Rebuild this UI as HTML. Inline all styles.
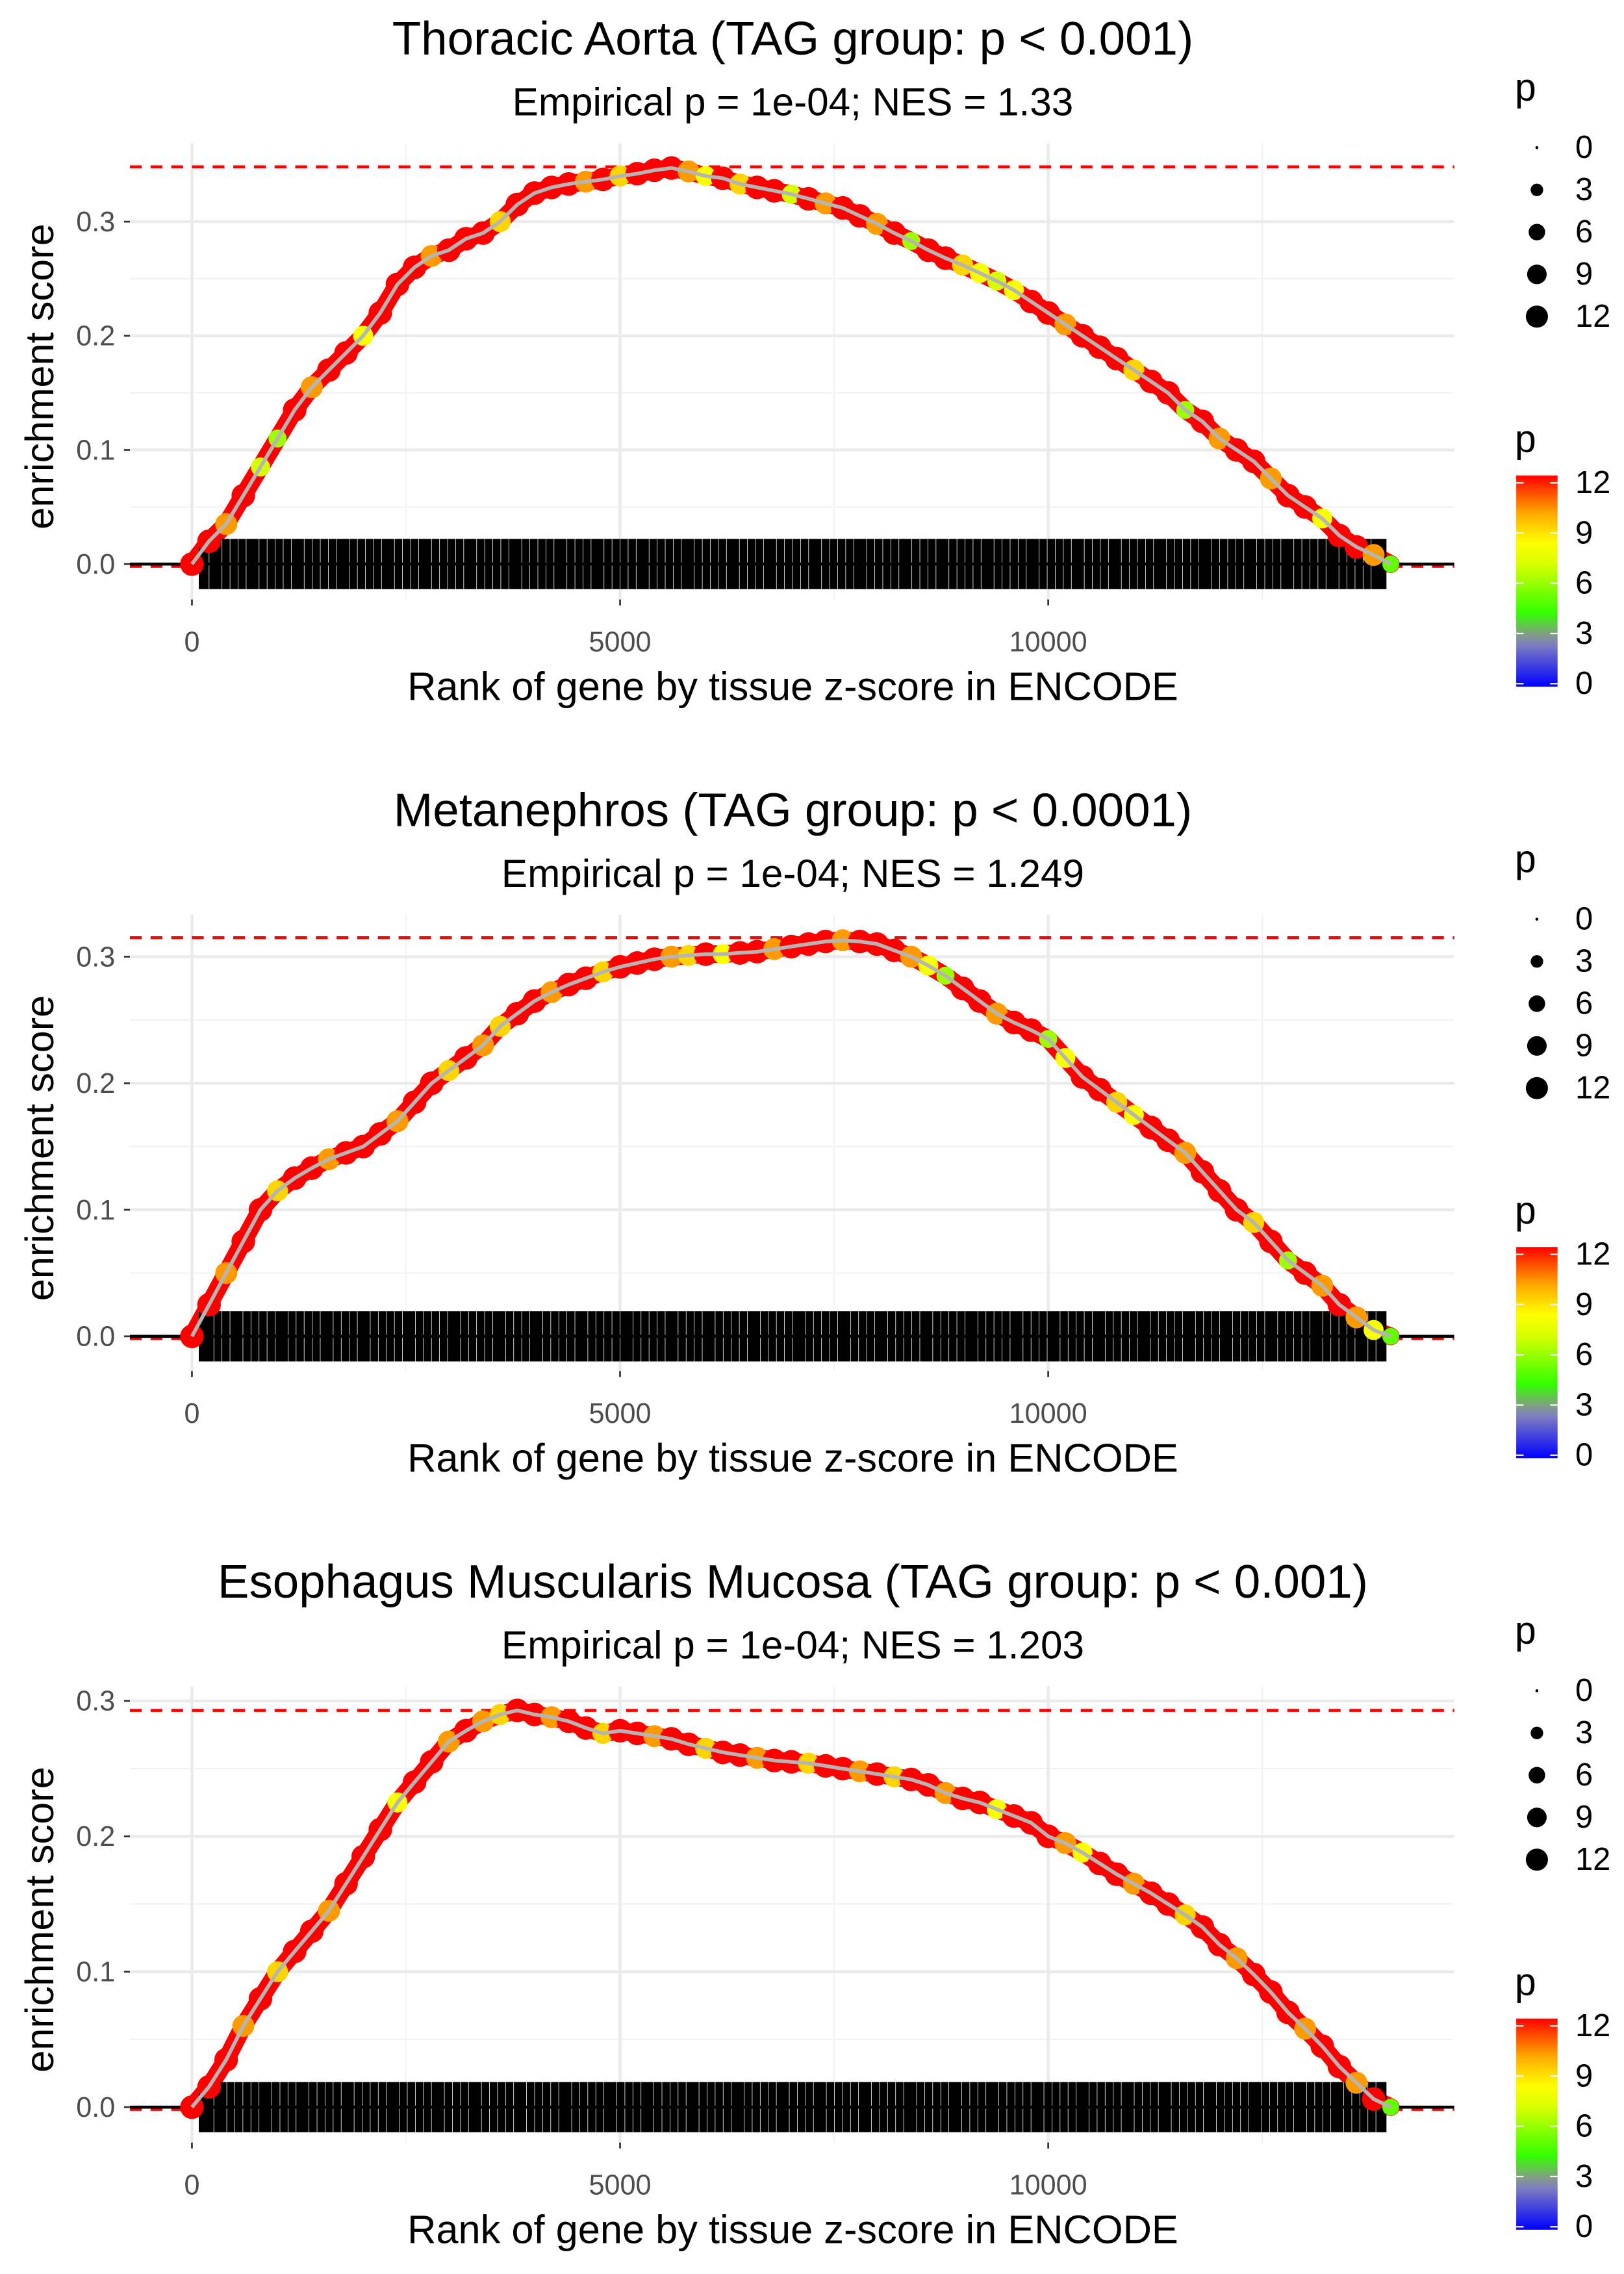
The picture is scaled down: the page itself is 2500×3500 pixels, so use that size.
<!DOCTYPE html>
<html><head><meta charset="utf-8"><style>
html,body{margin:0;padding:0;background:#fff;}
svg{display:block;font-family:"Liberation Sans",Arial,sans-serif;}
</style></head><body>
<svg id="chart" xmlns="http://www.w3.org/2000/svg" width="2500" height="3500" viewBox="0 0 1100 1540">
<defs>
<linearGradient id="pgrad" x1="0" y1="1" x2="0" y2="0">
<stop offset="0" stop-color="#0000ff"/>
<stop offset="0.2" stop-color="#7f7fbf"/>
<stop offset="0.25" stop-color="#80a080"/>
<stop offset="0.35" stop-color="#33ff00"/>
<stop offset="0.58" stop-color="#d8ff00"/>
<stop offset="0.68" stop-color="#ffff00"/>
<stop offset="0.82" stop-color="#ffaa00"/>
<stop offset="1" stop-color="#ff0000"/>
</linearGradient>
</defs>
<g id="root"></g>
</svg>
<script>
const titles = ["Thoracic Aorta (TAG group: p < 0.001)","Metanephros (TAG group: p < 0.0001)","Esophagus Muscularis Mucosa (TAG group: p < 0.001)"];
const subtitles = ["Empirical p = 1e-04; NES = 1.33","Empirical p = 1e-04; NES = 1.249","Empirical p = 1e-04; NES = 1.203"];
const maxES = [0.348, 0.315, 0.293];
const ranks = [0,200,400,600,800,1000,1200,1400,1600,1800,2000,2200,2400,2600,2800,3000,3200,3400,3600,3800,4000,4200,4400,4600,4800,5000,5200,5400,5600,5800,6000,6200,6400,6600,6800,7000,7200,7400,7600,7800,8000,8200,8400,8600,8800,9000,9200,9400,9600,9800,10000,10200,10400,10600,10800,11000,11200,11400,11600,11800,12000,12200,12400,12600,12800,13000,13200,13400,13600,13800,14000];
const es1 = [0,0.02,0.035,0.06,0.085,0.11,0.135,0.155,0.17,0.185,0.2,0.22,0.245,0.26,0.27,0.275,0.285,0.29,0.3,0.315,0.325,0.33,0.333,0.335,0.337,0.34,0.342,0.345,0.347,0.344,0.34,0.338,0.333,0.33,0.327,0.324,0.32,0.316,0.312,0.305,0.298,0.29,0.283,0.275,0.268,0.262,0.255,0.248,0.24,0.23,0.22,0.21,0.2,0.19,0.18,0.17,0.16,0.15,0.135,0.125,0.11,0.1,0.09,0.075,0.06,0.05,0.04,0.025,0.015,0.008,0];
const es2 = [0,0.025,0.05,0.075,0.1,0.115,0.125,0.133,0.14,0.145,0.15,0.16,0.17,0.185,0.2,0.21,0.22,0.23,0.245,0.255,0.265,0.272,0.278,0.283,0.288,0.292,0.295,0.298,0.3,0.301,0.302,0.302,0.303,0.304,0.306,0.308,0.31,0.312,0.313,0.312,0.31,0.305,0.3,0.293,0.285,0.275,0.265,0.255,0.248,0.242,0.235,0.22,0.205,0.195,0.185,0.175,0.165,0.155,0.145,0.13,0.115,0.1,0.09,0.075,0.06,0.05,0.04,0.025,0.015,0.005,0];
const es3 = [0,0.015,0.035,0.06,0.08,0.1,0.115,0.13,0.145,0.165,0.185,0.205,0.225,0.24,0.255,0.27,0.278,0.285,0.29,0.293,0.29,0.288,0.285,0.28,0.276,0.278,0.276,0.274,0.272,0.268,0.265,0.262,0.26,0.258,0.256,0.255,0.254,0.252,0.25,0.248,0.246,0.244,0.242,0.238,0.232,0.228,0.225,0.22,0.215,0.21,0.2,0.195,0.188,0.18,0.172,0.165,0.158,0.15,0.142,0.133,0.12,0.11,0.098,0.085,0.07,0.058,0.045,0.03,0.018,0.006,0];
const p1 = [12,12,10,12,7,6,12,10,12,12,8,12,12,12,10,12,12,12,9,12,12,12,12,10,12,9,12,12,12,10,8,12,9,12,12,7,12,10,12,12,10,12,6,12,12,9,8,7,8,12,12,10,12,12,12,9,12,12,6,12,10,12,12,10,12,12,8,12,12,10,5];
const p2 = [12,12,10,12,12,9,12,12,10,12,12,12,10,12,12,9,12,10,9,12,12,10,12,12,9,12,12,12,10,9,12,8,12,12,10,12,12,12,10,12,12,12,10,8,6,12,12,10,12,12,6,8,12,12,9,8,12,12,10,12,12,12,9,12,6,12,10,12,10,8,5];
const p3 = [12,12,12,10,12,9,12,12,10,12,12,12,8,12,12,10,12,10,9,12,12,10,12,12,9,12,12,10,12,12,9,12,12,10,12,12,9,12,12,10,12,9,12,12,10,12,12,8,12,12,12,10,8,12,12,10,12,12,9,12,12,10,12,12,12,10,12,12,10,12,5];
const esAll = [es1, es2, es3];
const pAll = [p1, p2, p3];
const xTicks = [0, 5000, 10000];
const xTickLabels = ["0", "5000", "10000"];
const yTicks = [0, 0.1, 0.2, 0.3];
const yTickLabels = ["0.0", "0.1", "0.2", "0.3"];
const legendVals = [0, 3, 6, 9, 12];

const NS = "http://www.w3.org/2000/svg";
const root = document.getElementById('root');
function mk(tag, attrs, parent) {
  const e = document.createElementNS(NS, tag);
  for (const k in attrs) e.setAttribute(k, attrs[k]);
  (parent || root).appendChild(e);
  return e;
}
function pColor(p) {
  const stops = [[0,[0,0,255]],[2.4,[127,127,191]],[3,[128,160,128]],[4.2,[51,255,0]],[7,[216,255,0]],[8.2,[255,255,0]],[9.8,[255,170,0]],[12,[255,0,0]]];
  for (let i = 1; i < stops.length; i++) {
    if (p <= stops[i][0]) {
      const a = stops[i-1], b = stops[i], t = (p - a[0]) / (b[0] - a[0]);
      const c = a[1].map((v, j) => Math.round(v + (b[1][j] - v) * t));
      return `rgb(${c[0]},${c[1]},${c[2]})`;
    }
  }
  return "rgb(255,0,0)";
}
function pRadius(p) { return 1.5 + 6.5 * Math.sqrt(p / 12); }

const OFF = 522.5;
const X0 = 88, X1 = 985;
function xPix(r) { return 130 + r * 0.058; }
const yZero = [382, 905, 1427];
const yScale = [773, 857, 917];

for (let k = 0; k < 3; k++) {
  const o = k * OFF;
  const g = mk('g', {});
  
  
  const yPix = v => yZero[k] - v * yScale[k];
  const top = 97 + o, bot = 406 + o;

  let t = mk('text', {x: 537, y: 37 + o, 'font-size': 32, 'text-anchor': 'middle', fill: '#000'}, g);
  t.textContent = titles[k];
  
  
  t = mk('text', {x: 537, y: 78 + o, 'font-size': 26.5, 'text-anchor': 'middle', fill: '#000'}, g);
  t.textContent = subtitles[k];
  
  

  const grid = mk('g', {}, g);
  
  
  [2500, 7500, 12500].forEach(r => mk('line', {x1: xPix(r), x2: xPix(r), y1: top, y2: bot, stroke: '#f3f3f3', 'stroke-width': 1}, grid));
  [0.05, 0.15, 0.25].forEach(v => mk('line', {x1: X0, x2: X1, y1: yPix(v), y2: yPix(v), stroke: '#f3f3f3', 'stroke-width': 1}, grid));
  xTicks.forEach(r => mk('line', {x1: xPix(r), x2: xPix(r), y1: top, y2: bot, stroke: '#ebebeb', 'stroke-width': 2}, grid));
  yTicks.forEach(v => mk('line', {x1: X0, x2: X1, y1: yPix(v), y2: yPix(v), stroke: '#ebebeb', 'stroke-width': 2}, grid));

  xTicks.forEach((r, i) => {
    mk('line', {x1: xPix(r), x2: xPix(r), y1: bot, y2: bot + 4, stroke: '#333', 'stroke-width': 1.2}, g);
    const tl = mk('text', {x: xPix(r), y: 441 + o, 'font-size': 19, 'text-anchor': 'middle', fill: '#4d4d4d'}, g);
    tl.textContent = xTickLabels[i];
    
    
  });
  yTicks.forEach((v, i) => {
    mk('line', {x1: X0 - 4, x2: X0, y1: yPix(v), y2: yPix(v), stroke: '#333', 'stroke-width': 1.2}, g);
    const tl = mk('text', {x: 78, y: yPix(v) + 6.5, 'font-size': 19, 'text-anchor': 'end', fill: '#4d4d4d'}, g);
    tl.textContent = yTickLabels[i];
    
    
  });
  t = mk('text', {x: 537, y: 474 + o, 'font-size': 27, 'text-anchor': 'middle', fill: '#000'}, g);
  t.textContent = 'Rank of gene by tissue z-score in ENCODE';
  
  
  const ymid = 255 + o;
  t = mk('text', {x: 0, y: 0, 'font-size': 27, 'text-anchor': 'middle', fill: '#000', transform: `translate(36,${ymid}) rotate(-90)`}, g);
  t.textContent = 'enrichment score';
  
  

  let dl = mk('line', {x1: X0, x2: X1, y1: yPix(maxES[k]), y2: yPix(maxES[k]), stroke: '#ff0000', 'stroke-width': 2, 'stroke-dasharray': '8 6'}, g);
  
  
  dl = mk('line', {x1: X0, x2: X1, y1: yPix(0) + 1.5, y2: yPix(0) + 1.5, stroke: '#ff0000', 'stroke-width': 2, 'stroke-dasharray': '8 6'}, g);
  
  

  const es = esAll[k], ps = pAll[k];
  let d = '';
  ranks.forEach((r, i) => { d += (i ? 'L' : 'M') + xPix(r).toFixed(1) + ',' + yPix(es[i]).toFixed(1); });
  mk('path', {d: d, fill: 'none', stroke: '#ff0000', 'stroke-width': 12, 'stroke-linejoin': 'round', 'stroke-linecap': 'round'}, g);

  const rug = mk('g', {}, g);
  
  
  mk('rect', {x: xPix(80), y: yPix(0) - 17, width: xPix(13950) - xPix(80), height: 34, fill: '#000'}, rug);
  for (let i = 0; i < 520; i++) {
    const r = 200 + i * 26.5 + ((i * 37 + k * 11) % 19) * 3;
    if ((i * 7 + k * 5) % 4 === 0 && r < 13900) mk('line', {x1: xPix(r), x2: xPix(r), y1: yPix(0) - 17, y2: yPix(0) + 17, stroke: '#fff', 'stroke-width': 0.35}, rug);
  }
  mk('line', {x1: X0, x2: X1, y1: yPix(0), y2: yPix(0), stroke: '#000', 'stroke-width': 2}, g);

  const pts = mk('g', {}, g);
  
  
  ranks.forEach((r, i) => {
    const c = mk('circle', {cx: xPix(r), cy: yPix(es[i]), r: pRadius(ps[i]), fill: pColor(ps[i])}, pts);
    
    
  });
  const ln = mk('path', {d: d, fill: 'none', stroke: '#b5b5b5', 'stroke-width': 2.5}, g);
  
  

  const lg = mk('g', {}, g);
  
  
  t = mk('text', {x: 1026, y: 68 + o, 'font-size': 26, fill: '#000'}, lg);
  t.textContent = 'p';
  legendVals.forEach((v, i) => {
    const yy = 100 + o + i * 28.6;
    mk('circle', {cx: 1041, cy: yy, r: pRadius(v) - 0.5, fill: '#000'}, lg);
    const tl = mk('text', {x: 1067, y: yy + 7, 'font-size': 21.5, fill: '#000'}, lg);
    tl.textContent = String(v);
  });
  const cg = mk('g', {}, g);
  
  
  t = mk('text', {x: 1026, y: 306 + o, 'font-size': 26, fill: '#000'}, cg);
  t.textContent = 'p';
  mk('rect', {x: 1027, y: 322 + o, width: 28, height: 143, fill: 'url(#pgrad)'}, cg);
  legendVals.forEach((v, i) => {
    const yy = 463 + o - i * 34;
    mk('line', {x1: 1027, x2: 1032, y1: yy, y2: yy, stroke: '#fff', 'stroke-width': 1}, cg);
    mk('line', {x1: 1050, x2: 1055, y1: yy, y2: yy, stroke: '#fff', 'stroke-width': 1}, cg);
    const tl = mk('text', {x: 1067, y: yy + 7, 'font-size': 21.5, fill: '#000'}, cg);
    tl.textContent = String(v);
  });
}
</script>
</body></html>
